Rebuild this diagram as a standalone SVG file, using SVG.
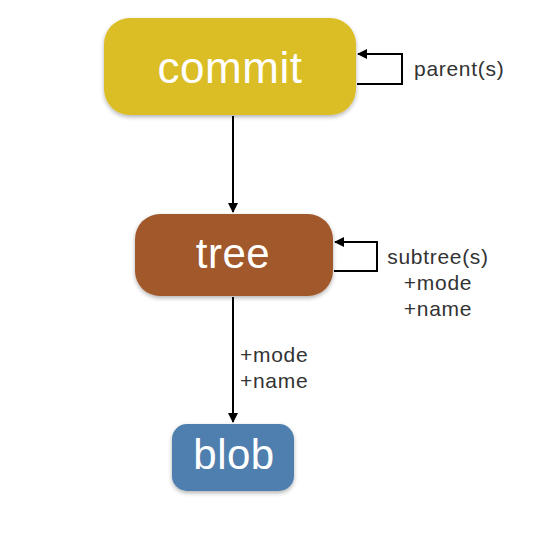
<svg xmlns="http://www.w3.org/2000/svg" width="556" height="558" viewBox="0 0 556 558">
<style>
.node{font-family:"Liberation Sans",Arial,sans-serif;fill:#fff;text-anchor:middle;font-weight:300}
.lbl{font-family:"Liberation Sans",Arial,sans-serif;fill:#333;font-size:21px;letter-spacing:0.7px}
.edge{stroke:#000;stroke-width:2;fill:none}
</style>
<defs>
<marker id="ah" viewBox="0 0 10 10" refX="9" refY="5" markerWidth="5" markerHeight="5" orient="auto-start-reverse" markerUnits="strokeWidth">
<path d="M0,0 L10,5 L0,10 z" fill="#000"/>
</marker>
<filter id="sh" x="-10%" y="-10%" width="120%" height="130%">
<feDropShadow dx="0" dy="2" stdDeviation="2" flood-color="#000" flood-opacity="0.3"/>
</filter>
</defs>
<rect width="556" height="558" fill="#fff"/>
<g id="connectors">
<path class="edge" d="M233,116 L233,212" marker-end="url(#ah)"/>
<path class="edge" d="M233,297 L233,422" marker-end="url(#ah)"/>
<path class="edge" d="M357,84 L402,84 L402,54 L358,54" marker-end="url(#ah)"/>
<path class="edge" d="M334,271 L377,271 L377,242 L335,242" marker-end="url(#ah)"/>
</g>
<g id="commit">
<rect x="104" y="18" width="252" height="97" rx="26" fill="#DBBE26" filter="url(#sh)"/>
<text class="node" x="230" y="83" font-size="44" letter-spacing="0.5">commit</text>
</g>
<g id="tree">
<rect x="135" y="214" width="198" height="82" rx="25" fill="#A1592B" filter="url(#sh)"/>
<text class="node" x="233" y="268" font-size="42" letter-spacing="0.5">tree</text>
</g>
<g id="blob">
<rect x="172" y="424" width="122" height="67" rx="15" fill="#4F7FAE" filter="url(#sh)"/>
<text class="node" x="234" y="469" font-size="42" letter-spacing="0.5">blob</text>
</g>
<g id="labels">
<text class="lbl" x="414" y="76">parent(s)</text>
<text class="lbl" x="438" y="264" text-anchor="middle">subtree(s)</text>
<text class="lbl" x="438" y="290" text-anchor="middle">+mode</text>
<text class="lbl" x="438" y="316" text-anchor="middle">+name</text>
<text class="lbl" x="240" y="362">+mode</text>
<text class="lbl" x="240" y="388">+name</text>
</g>
</svg>
